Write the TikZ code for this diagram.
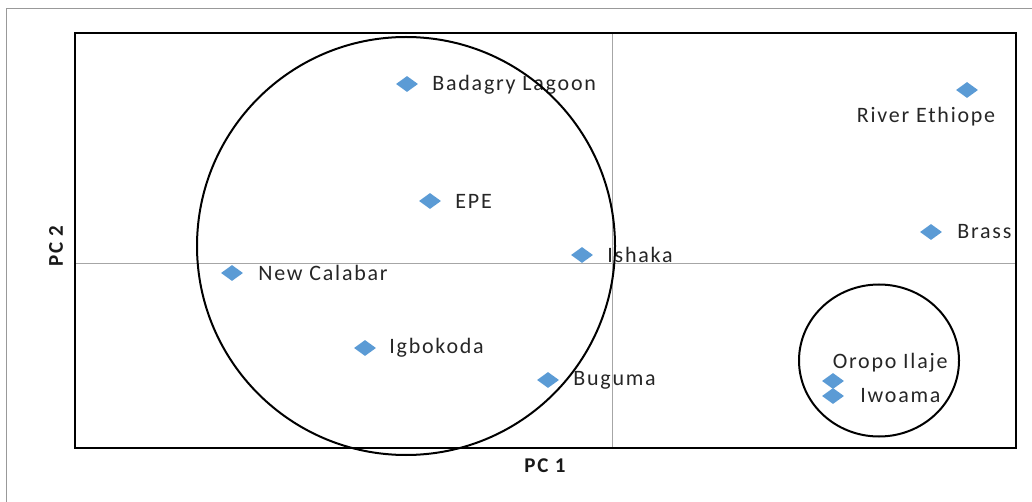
\documentclass[tikz,border=0pt]{standalone}
\usepackage{fontspec}
\usetikzlibrary{positioning,shapes.geometric}
\newfontfamily\lblfont[LetterSpace=8]{Carlito}
\definecolor{ptblue}{HTML}{5B9BD5}
\tikzset{
  site/.style={diamond, fill=ptblue, draw=none, minimum width=22pt, minimum height=16pt, inner sep=0pt},
  sitename/.style={font=\lblfont\fontsize{22}{22}\selectfont, text=black!85, inner sep=0pt},
  axisname/.style={font=\lblfont\bfseries\fontsize{21}{21}\selectfont, text=black!90, inner sep=0pt},
  grid line/.style={gray!70, line width=1pt}
}
\begin{document}
\begin{tikzpicture}[x=1pt, y=-1pt]
    \useasboundingbox (0, 0) rectangle (1032, 502);
    \draw[gray!80, line width=1pt] (6, 502) -- (6, 9) -- (1032, 9);

    \draw[grid line] (612, 33) -- (612, 448);
    \draw[grid line] (75, 264) -- (1016, 264);
    \draw[line width=2.5pt] (75, 33) rectangle (1016, 448);

    \node[site] (badagry) at (407, 84) {};
    \node[site] (epe) at (430, 201) {};
    \node[site] (ishaka) at (582, 255) {};
    \node[site] (calabar) at (232, 273) {};
    \node[site] (igbokoda) at (365, 348) {};
    \node[site] (buguma) at (548, 380) {};
    \node[site] (ethiope) at (967, 90) {};
    \node[site] (brass) at (931, 232) {};
    \node[site] (oropo) at (833, 381) {};
    \node[site] (iwoama) at (833, 396) {};

    \node[sitename, right=14pt of badagry, yshift=-1pt] {Badagry Lagoon};
    \node[sitename, right=14pt of epe] {EPE};
    \node[sitename, right=14pt of ishaka] {Ishaka};
    \node[sitename, right=15pt of calabar] {New Calabar};
    \node[sitename, right=13pt of igbokoda] {Igbokoda};
    \node[sitename, right=14pt of buguma] {Buguma};
    \node[sitename, below left=13pt and -34pt of ethiope] {River Ethiope};
    \node[sitename, right=15pt of brass] {Brass};
    \node[sitename, above right=4pt and -6pt of oropo] {Oropo Ilaje};
    \node[sitename, right=16pt of iwoama] {Iwoama};

    \draw[line width=2pt] (406, 246) circle (209);
    \draw[line width=2pt] (879, 360.5) ellipse (80 and 76);

    \node[axisname] (pc1) at (545, 466) {PC 1};
    \node[axisname, rotate=90] (pc2) at (56, 246) {PC 2};
\end{tikzpicture}
\end{document}
